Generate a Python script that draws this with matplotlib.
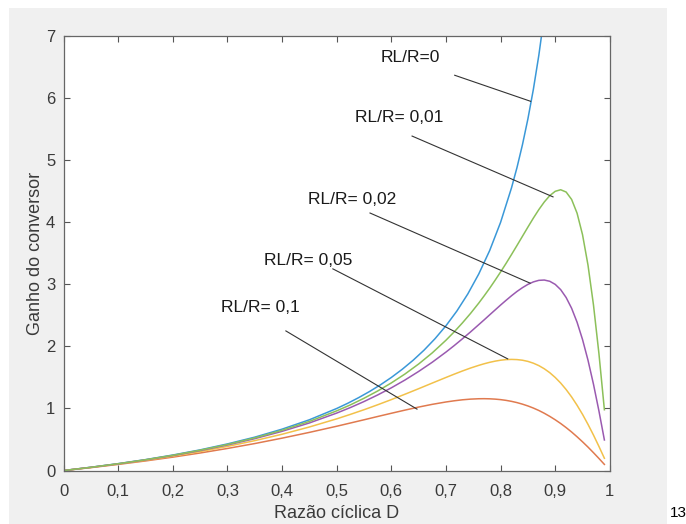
import matplotlib
matplotlib.use("Agg")
import matplotlib.pyplot as plt
from matplotlib.patches import Rectangle

# duty cycle D and converter gain
d_ideal = [0, 0.05, 0.1, 0.15, 0.2, 0.25, 0.3, 0.35, 0.4, 0.45, 0.5,
           0.52, 0.54, 0.56, 0.58, 0.6, 0.62, 0.64, 0.66, 0.68, 0.7, 0.72,
           0.74, 0.76, 0.78, 0.8, 0.82, 0.83, 0.84, 0.85, 0.86, 0.87, 0.88]
gain_r0 = [0, 0.053, 0.111, 0.176, 0.25, 0.333, 0.429, 0.538, 0.667, 0.818, 1.0,
           1.083, 1.174, 1.273, 1.381, 1.5, 1.632, 1.778, 1.941, 2.125, 2.333,
           2.571, 2.846, 3.167, 3.545, 4.0, 4.556, 4.882, 5.25, 5.667, 6.143,
           6.692, 7.333]

d_lossy = [0, 0.05, 0.1, 0.15, 0.2, 0.25, 0.3, 0.35, 0.4, 0.45, 0.5, 0.525,
           0.55, 0.575, 0.6, 0.625, 0.65, 0.675, 0.7, 0.715, 0.73, 0.745,
           0.76, 0.77, 0.78, 0.79, 0.8, 0.81, 0.82, 0.83, 0.84, 0.85, 0.86,
           0.87, 0.88, 0.89, 0.9, 0.91, 0.92, 0.93, 0.94, 0.95, 0.96, 0.97,
           0.98, 0.99]
gain_r001 = [0, 0.052, 0.110, 0.174, 0.246, 0.328, 0.420, 0.526, 0.649, 0.792,
             0.962, 1.058, 1.165, 1.282, 1.412, 1.556, 1.717, 1.897, 2.1, 2.234,
             2.378, 2.532, 2.698, 2.816, 2.938, 3.067, 3.2, 3.338, 3.481, 3.627,
             3.775, 3.923, 4.068, 4.205, 4.328, 4.430, 4.5, 4.525, 4.488, 4.369,
             4.147, 3.8, 3.310, 2.670, 1.885, 0.980]
gain_r002 = [0, 0.052, 0.108, 0.172, 0.242, 0.322, 0.412, 0.514, 0.632, 0.767,
             0.926, 1.015, 1.112, 1.218, 1.333, 1.459, 1.597, 1.746, 1.909, 2.013,
             2.122, 2.234, 2.351, 2.429, 2.509, 2.588, 2.667, 2.743, 2.817, 2.886,
             2.947, 3.0, 3.040, 3.065, 3.070, 3.050, 3.0, 2.915, 2.788, 2.615,
             2.390, 2.111, 1.778, 1.392, 0.961, 0.493]
gain_r005 = [0, 0.050, 0.105, 0.165, 0.232, 0.306, 0.389, 0.482, 0.585, 0.702,
             0.833, 0.905, 0.980, 1.060, 1.143, 1.230, 1.319, 1.410, 1.5, 1.553,
             1.604, 1.652, 1.695, 1.721, 1.744, 1.763, 1.778, 1.788, 1.791, 1.788,
             1.778, 1.759, 1.730, 1.691, 1.640, 1.577, 1.5, 1.410, 1.305, 1.186,
             1.052, 0.905, 0.744, 0.572, 0.389, 0.198]
gain_r01 = [0, 0.047, 0.099, 0.155, 0.216, 0.283, 0.356, 0.435, 0.522, 0.615,
            0.714, 0.766, 0.818, 0.871, 0.923, 0.974, 1.023, 1.067, 1.105, 1.124,
            1.140, 1.151, 1.157, 1.158, 1.156, 1.151, 1.143, 1.131, 1.115, 1.095,
            1.070, 1.041, 1.007, 0.968, 0.923, 0.873, 0.818, 0.758, 0.692, 0.621,
            0.544, 0.463, 0.378, 0.288, 0.195, 0.099]

x_ticks = [0, 0.1, 0.2, 0.3, 0.4, 0.5, 0.6, 0.7, 0.8, 0.9, 1]
x_tick_labels = ['0', '0,1', '0,2', '0,3', '0,4', '0,5', '0,6', '0,7', '0,8', '0,9', '1']
y_ticks = [0, 1, 2, 3, 4, 5, 6, 7]

labels = ['RL/R=0', 'RL/R= 0,01', 'RL/R= 0,02', 'RL/R= 0,05', 'RL/R= 0,1']
label_xy = [(0.634, 6.65), (0.614, 5.69), (0.528, 4.36), (0.447, 3.39), (0.360, 2.62)]
pointer_from = [(0.716, 6.37), (0.638, 5.39), (0.561, 4.15), (0.493, 3.25), (0.407, 2.25)]
pointer_to = [(0.855, 5.95), (0.896, 4.41), (0.854, 3.02), (0.813, 1.80), (0.647, 0.99)]

plt.rcParams['font.family'] = ['Liberation Sans', 'DejaVu Sans']

fig = plt.figure(figsize=(6.86, 5.24), dpi=100, facecolor='white')
fig.patches.append(Rectangle((9 / 686, 0), 658 / 686, 516 / 524,
                             transform=fig.transFigure, facecolor='#f0f0f0',
                             edgecolor='none', zorder=-10))
ax = fig.add_axes([0.0926, 0.102, 0.7964, 0.829])
ax.set_facecolor('white')

lw = 1.1
ax.plot(d_ideal, gain_r0, color='#3a98d8', lw=lw)
ax.plot(d_lossy, gain_r01, color='#e07a4f', lw=lw)
ax.plot(d_lossy, gain_r005, color='#f2c14a', lw=lw)
ax.plot(d_lossy, gain_r002, color='#9a5ab0', lw=lw)
ax.plot(d_lossy, gain_r001, color='#8cc05a', lw=lw)

for txt, (tx, ty), (x0, y0), (x1, y1) in zip(labels, label_xy, pointer_from, pointer_to):
    ax.text(tx, ty, txt, ha='center', va='center', fontsize=12.5, color='#1a1a1a')
    ax.plot([x0, x1], [y0, y1], color='#333333', lw=0.8)

ax.set_xlim(0, 1)
ax.set_ylim(0, 7)
ax.set_xticks(x_ticks)
ax.set_xticklabels(x_tick_labels)
ax.set_yticks(y_ticks)
ax.tick_params(direction='in', length=4, width=0.8, color='#555555',
               labelcolor='#3a3a3a', labelsize=12, top=True, right=True)
ax.tick_params(axis='x', pad=10)
ax.tick_params(axis='y', pad=6)
for sp in ax.spines.values():
    sp.set_color('#666666')
    sp.set_linewidth(0.9)

ax.set_xlabel('Razão cíclica D', fontsize=13, color='#3a3a3a', labelpad=4)
ax.set_ylabel('Ganho do conversor', fontsize=13, color='#3a3a3a', labelpad=1)

fig.text(670 / 686, 4 / 524, '13', fontsize=11, color='black', ha='left', va='bottom')

fig.savefig('out.png', dpi=100, facecolor='white')
